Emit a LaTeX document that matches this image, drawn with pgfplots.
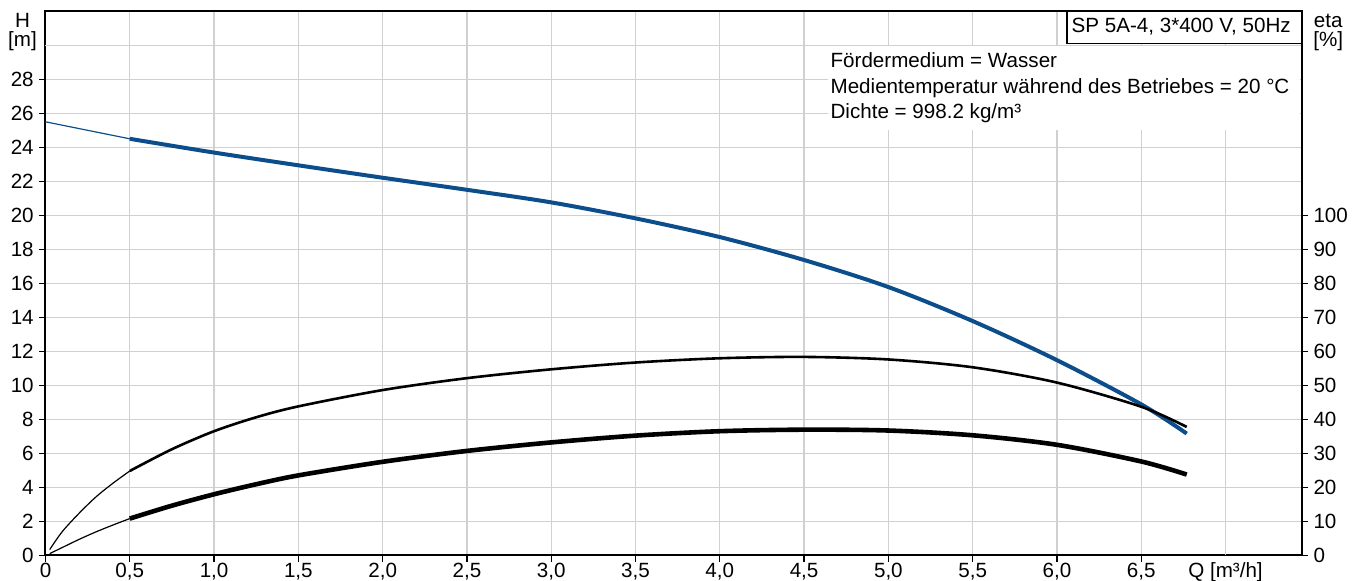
\documentclass[border=0pt]{standalone}
\usepackage{fontspec}
\setmainfont{Liberation Sans}
\usepackage{pgfplots}
\pgfplotsset{compat=1.18}
\definecolor{hblue}{RGB}{12,78,140}
\definecolor{gridgray}{RGB}{208,208,210}
\begin{document}
\fontsize{10.3}{12}\selectfont
\begin{tikzpicture}
\useasboundingbox (-22.75pt,-12.35pt) rectangle (658.25pt,277.65pt);
\pgfplotsset{
  base/.style={
    width=628.1pt, height=272pt, scale only axis,
    at={(0,0)}, anchor=south west,
    xmin=0, xmax=7.452,
    clip=false,
    tick align=outside,
    major tick length=3.3pt,
    tick style={black, line width=0.7pt},
    axis line style={black, line width=1pt},
    /pgf/number format/assume math mode=true,
    yticklabel style={inner sep=2.4pt},
    xticklabel style={inner sep=0.3pt},
  }
}
\begin{axis}[base,
  ymin=0, ymax=32,
  tick pos=left,
  xtick={0,0.5,1,1.5,2,2.5,3,3.5,4,4.5,5,5.5,6,6.5},
  xticklabels={0,{0,5},{1,0},{1,5},{2,0},{2,5},{3,0},{3,5},{4,0},{4,5},{5,0},{5,5},{6,0},{6,5}},
  extra x ticks={7},
  extra x tick labels={Q [m³/h]},
  extra x tick style={grid=major, major tick length=0pt, xticklabel style={yshift=-3.3pt}},
  ytick={0,2,...,28},
  extra y ticks={30},
  extra y tick labels={},
  extra y tick style={grid=major, major tick length=0pt},
  grid=major,
  major grid style={gridgray, line width=0.65pt},
]
% info box
\fill[white] (axis cs:4.642,25.0) rectangle (axis cs:7.44,29.93);
\draw[black, line width=0.7pt, fill=white] (axis cs:6.06,30.1) rectangle (axis cs:7.452,32);
\node[anchor=base west, inner sep=0pt] at (axis cs:6.085,30.78) {SP 5A-4, 3*400 V, 50Hz};
\node[anchor=base west, inner sep=0pt] at (axis cs:4.655,28.72) {Fördermedium = Wasser};
\node[anchor=base west, inner sep=0pt] at (axis cs:4.655,27.16) {Medientemperatur während des Betriebes = 20 °C};
\node[anchor=base west, inner sep=0pt] at (axis cs:4.655,25.69) {Dichte = 998.2 kg/m³};
% H label
\node[anchor=base, inner sep=0pt] at (rel axis cs:0,1) [xshift=-11.5pt, yshift=-8.2pt] {H};
\node[anchor=base, inner sep=0pt] at (rel axis cs:0,1) [xshift=-11.5pt, yshift=-17.7pt] {[m]};
% H curve
\addplot[hblue, line width=0.6pt] coordinates {(0,25.5) (0.25,25.0) (0.5,24.5)};
\addplot[hblue, line width=2pt, smooth] coordinates {
(0.5,24.5) (1.0,23.69) (1.5,22.94) (2.0,22.21) (2.5,21.5) (3.0,20.76)
(3.5,19.82) (4.0,18.72) (4.5,17.37) (5.0,15.78) (5.5,13.78) (6.0,11.48) (6.5,8.88) (6.77,7.16)};
\end{axis}
\begin{axis}[base,
  ymin=0, ymax=160,
  axis x line=none,
  axis y line*=right,
  axis line style={-},
  ytick={0,10,...,100},
]
\node[anchor=base, inner sep=0pt] at (rel axis cs:1,1) [xshift=13.3pt, yshift=-8.2pt] {eta};
\node[anchor=base, inner sep=0pt] at (rel axis cs:1,1) [xshift=13.3pt, yshift=-17.7pt] {[\%]};
% upper efficiency curve
\addplot[black, line width=0.6pt, smooth] coordinates {(0.025,1.7) (0.1,7.0) (0.2,12.4) (0.3,17.2) (0.4,21.2) (0.5,24.8)};
\addplot[black, line width=1.3pt, smooth] coordinates {
(0.5,24.8) (0.75,31.2) (1.0,36.5) (1.25,40.6) (1.5,43.8) (2.0,48.6) (2.5,52.1) (3.0,54.7)
(3.5,56.7) (4.0,57.95) (4.5,58.35) (5.0,57.6) (5.5,55.3) (6.0,50.8) (6.5,43.7) (6.77,37.75)};
% lower efficiency curve
\addplot[black, line width=0.6pt, smooth] coordinates {(0.025,0.5) (0.1,2.3) (0.2,4.7) (0.3,6.9) (0.4,8.9) (0.5,10.8)};
\addplot[black, line width=2.3pt, smooth] coordinates {
(0.5,10.8) (0.75,14.6) (1.0,17.95) (1.25,20.9) (1.5,23.5) (2.0,27.5) (2.5,30.7) (3.0,33.2)
(3.5,35.2) (4.0,36.5) (4.5,36.95) (5.0,36.7) (5.5,35.3) (6.0,32.5) (6.5,27.6) (6.77,23.75)};
\end{axis}
\end{tikzpicture}
\end{document}
